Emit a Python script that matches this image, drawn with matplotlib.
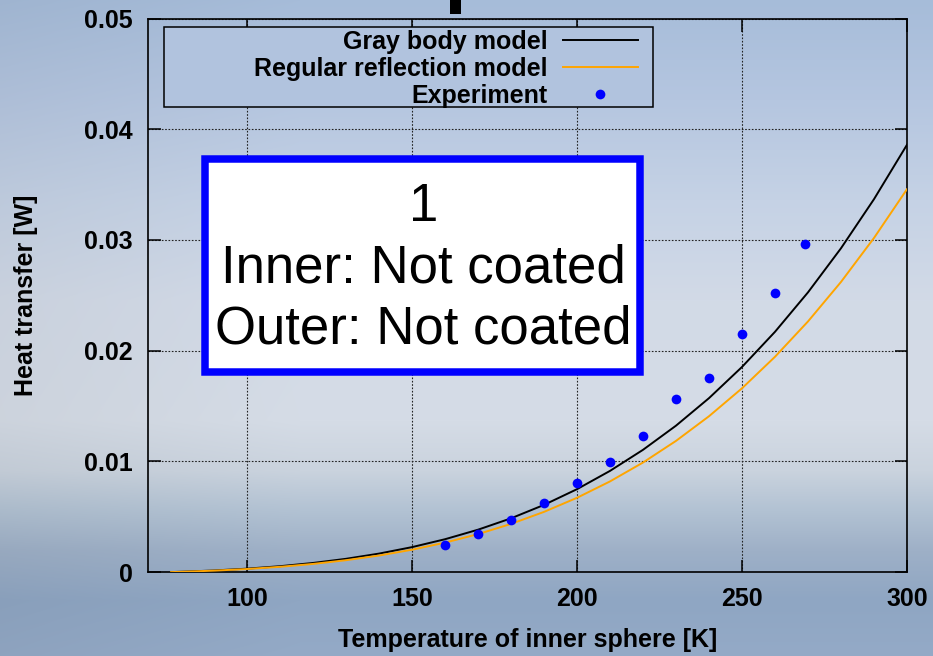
import numpy as np
import matplotlib.pyplot as plt
from matplotlib.patches import Rectangle
from matplotlib.lines import Line2D

# --- data ---
# model curves (temperature of inner sphere [K] -> heat transfer [W])
temp_model = [77, 80, 90, 100, 110, 120, 130, 140, 150, 160, 170, 180,
              190, 200, 210, 220, 230, 240, 250, 260, 270, 280, 290, 300]
gray_body = [0.0, 0.00003, 0.000146, 0.00031, 0.000532, 0.000824, 0.001199,
             0.00167, 0.002255, 0.002968, 0.003829, 0.004856, 0.006069,
             0.007489, 0.00914, 0.011043, 0.013225, 0.015711, 0.018527,
             0.021703, 0.025267, 0.029249, 0.033682, 0.038598]
regular_reflection = [0.0, 0.000025, 0.000131, 0.000278, 0.000477, 0.000738,
                      0.001074, 0.001496, 0.00202, 0.002659, 0.003431,
                      0.004351, 0.005438, 0.00671, 0.008189, 0.009895,
                      0.01185, 0.014077, 0.0166, 0.019446, 0.022639,
                      0.026207, 0.030179, 0.034584]

# measured points
temp_exp = [160, 170, 180, 190, 200, 210, 220, 230, 240, 250, 260, 269]
q_exp = [0.00243, 0.00348, 0.00474, 0.00622, 0.00808, 0.00991, 0.01231,
         0.01567, 0.01749, 0.02151, 0.02523, 0.02961]

x_ticks = [100, 150, 200, 250, 300]
y_ticks = [0, 0.01, 0.02, 0.03, 0.04, 0.05]
y_tick_labels = ['0', '0.01', '0.02', '0.03', '0.04', '0.05']

series_labels = ['Gray body model', 'Regular reflection model', 'Experiment']
box_text = '1\nInner: Not coated\nOuter: Not coated'

plt.rcParams['font.family'] = ['Liberation Sans', 'DejaVu Sans']

fig = plt.figure(figsize=(9.33, 6.56), dpi=100)

# slide background gradient (top light blue -> pale -> blue grey at bottom)
stops_y = [0, 100, 200, 300, 420, 470, 510, 550, 600, 656]
stops_c = np.array([
    [166, 188, 217], [181, 198, 224], [197, 210, 229], [210, 218, 231],
    [213, 220, 230], [202, 211, 222], [178, 194, 211], [158, 176, 199],
    [143, 166, 195], [148, 170, 199]]) / 255.0
rows = np.arange(656)
grad = np.stack([np.interp(rows, stops_y, stops_c[:, k]) for k in range(3)], axis=1)
shade = np.interp(np.arange(933), [0, 300, 933], [0.96, 1.0, 1.0])
bg_img = grad[:, None, :] * shade[None, :, None]
bg = fig.add_axes([0, 0, 1, 1], zorder=-10)
bg.imshow(np.clip(bg_img, 0, 1), aspect='auto', extent=(0, 1, 0, 1))
bg.axis('off')

ax = fig.add_axes([0.1586, 0.1279, 0.8135, 0.8438])
ax.set_facecolor('none')

ax.plot(temp_model, gray_body, color='black', linewidth=1.4, zorder=3)
ax.plot(temp_model, regular_reflection, color='#ffa500', linewidth=1.4, zorder=3)
ax.plot(temp_exp, q_exp, linestyle='none', marker='o', markersize=7,
        color='#0000ff', markeredgewidth=0, zorder=4)

ax.set_xlim(70, 300)
ax.set_ylim(0, 0.05)
ax.set_xticks(x_ticks)
ax.set_yticks(y_ticks)
ax.set_yticklabels(y_tick_labels)
ax.tick_params(direction='in', length=9, width=1.1, top=True, right=True,
               labelsize=18, pad=11)
for lbl in ax.get_xticklabels() + ax.get_yticklabels():
    lbl.set_fontweight('bold')
for sp in ax.spines.values():
    sp.set_linewidth(1.2)

ax.grid(True, color='#222222', linewidth=0.8, linestyle=(0, (1.5, 1.5)))
ax.set_axisbelow(True)

ax.set_xlabel('Temperature of inner sphere [K]', fontsize=18, fontweight='bold')
ax.set_ylabel('Heat transfer [W]', fontsize=18, fontweight='bold')
ax.xaxis.set_label_coords(0.5, -0.101)
ax.yaxis.set_label_coords(-0.1443, 0.5)

# key box (gnuplot style, hides the grid behind it)
ax.add_patch(Rectangle((0.0211, 0.8408), 0.6442, 0.1446, transform=ax.transAxes,
                       facecolor='#b1c3de', edgecolor='black', linewidth=1.1,
                       zorder=5))
handles = [Line2D([], [], color='black', linewidth=1.4),
           Line2D([], [], color='#ffa500', linewidth=1.4),
           Line2D([], [], linestyle='none', marker='o', markersize=7,
                  color='#0000ff', markeredgewidth=0)]
leg = ax.legend(handles, series_labels, loc='upper right',
                bbox_to_anchor=(0.6452, 0.9802), frameon=False,
                markerfirst=False, alignment='right', handlelength=3.0,
                handletextpad=0.6, labelspacing=0.12, borderpad=0,
                borderaxespad=0, numpoints=1,
                prop={'size': 18, 'weight': 'bold'})
leg.set_zorder(6)

# annotation box
ax.add_patch(Rectangle((0.0748, 0.3611), 0.5738, 0.3857, transform=ax.transAxes,
                       facecolor='white', edgecolor='#0000ff', linewidth=5.4,
                       zorder=7))
ax.text(0.363, 0.549, box_text, transform=ax.transAxes, ha='center',
        va='center', multialignment='center', fontsize=38, zorder=8,
        linespacing=1.3)

# clipped piece of the slide title above the chart
fig.patches.append(Rectangle((0.4823, 0.9787), 0.0114, 0.0213,
                             transform=fig.transFigure, facecolor='black',
                             edgecolor='none'))

fig.savefig('out.png', dpi=100)
